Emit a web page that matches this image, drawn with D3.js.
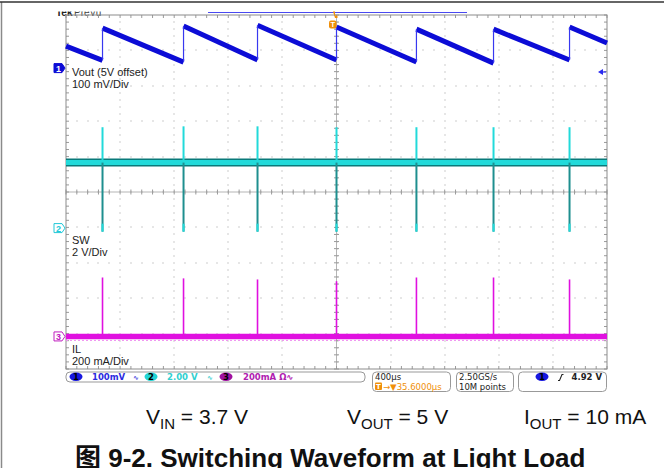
<!DOCTYPE html>
<html><head><meta charset="utf-8">
<script src="https://cdn.jsdelivr.net/npm/d3@7"></script>
<style>html,body{margin:0;padding:0;background:#fff}svg{display:block}</style>
</head><body><svg id="c" width="664" height="468"></svg>
<script>
// ---- data ----
const timeRangeUs = [-2000, 2000];           // 400 µs/div, 10 divisions
const switchTimesUs = [-1730, -1131, -584, 0, 591, 1161, 1723];
const voutBeforeSwitchMv = [22, 17, 23, 23, 17, 14, 23];   // Vout (5 V offset) just before each switching burst
const voutAfterSwitchMv = [113, 119, 121, 116, 110, 110, 116]; // just after
const voutScreenEdgesMv = [62, 71];          // at left / right edge of the screen
const swIdleV = 3.7;
const swSpikeHighV = [5.7, 5.75, 5.75, 5.7, 5.7, 5.7, 5.7];
const swSpikeLowV = [-0.2, -0.2, -0.2, -0.2, -0.2, -0.2, -0.2];
const ilIdleMa = 0;
const ilSpikeMa = [333, 328, 322, 312, 333, 333, 322];
const channelNames = ["Vout (5V offset)", "SW", "IL"];
const channelScales = ["100 mV/Div", "2 V/Div", "200 mA/Div"];
const statusScales = ["100mV", "2.00 V", "200mA \u03A9\u223F"];
const horizontalInfo = ["400\u00B5s", "35.6000\u00B5s"];
const acquisitionInfo = ["2.50GS/s", "10M points"];
const triggerInfo = "4.92 V";
const conditions = [["V", "IN", " = 3.7 V"], ["V", "OUT", " = 5 V"], ["I", "OUT", " = 10 mA"]];
const captionText = "\u56FE 9-2. Switching Waveform at Light Load";

// ---- layout ----
const svg = d3.select("#c");
const L = 66, R = 607, T = 15, B = 369;
const x = d3.scaleLinear().domain(timeRangeUs).range([L, R]);
const yDiv = d3.scaleLinear().domain([-5, 5]).range([B, T]);
const ch1 = v => yDiv(v / 100 + 3.5);
const ch2 = v => yDiv(v / 2 - 1.02);
const ch3 = v => yDiv(v / 200 - 4.08);

const BLUE = "#0c0cd6", CYAN = "#22dada", TEAL = "#0a7a7a", MAG = "#e010e0", GRID = "#9a9a9a", ORANGE = "#f0900a";
const F = "'Liberation Sans', Arial, sans-serif";

// outer frame
svg.append("line").attr("x1", 1.5).attr("x2", 1.5).attr("y1", 2).attr("y2", 468).attr("stroke", "#8a8a8a").attr("stroke-width", 1.5);
svg.append("line").attr("x1", 0).attr("x2", 664).attr("y1", 2).attr("y2", 2).attr("stroke", "#333").attr("stroke-width", 1.5);

// "Tek PreVu" header (clipped at the top like the screenshot)
svg.append("clipPath").attr("id", "hc").append("rect").attr("x", 50).attr("y", 11.5).attr("width", 120).attr("height", 5);
const hg = svg.append("g").attr("clip-path", "url(#hc)");
hg.append("text").attr("x", 56).attr("y", 15.5).attr("font-family", F).attr("font-size", 10).attr("font-weight", "bold").attr("fill", "#222").text("Tek");
hg.append("text").attr("x", 74).attr("y", 15.5).attr("font-family", F).attr("font-size", 10).attr("fill", "#444").text("PreVu");
// record view bar
svg.append("line").attr("x1", 208).attr("x2", 467).attr("y1", 12.5).attr("y2", 12.5).attr("stroke", "#4a4af0").attr("stroke-width", 1);

// graticule
const g = svg.append("g");
const xd = d3.range(0, 11).map(i => L + (R - L) * i / 10);
const yd = d3.range(0, 11).map(i => T + (B - T) * i / 10);
const dots = [];
xd.slice(1, 10).forEach(px => { d3.range(0, 51).forEach(k => { if (k % 5) dots.push([px, T + (B - T) * k / 50]); }); });
yd.slice(1, 10).forEach(py => { d3.range(0, 51).forEach(k => { if (k % 5) dots.push([L + (R - L) * k / 50, py]); }); });
xd.slice(1, 10).forEach(px => yd.slice(1, 10).forEach(py => dots.push([px, py])));
g.selectAll("rect.d").data(dots).join("rect").attr("x", d => Math.round(d[0]) - 0.5).attr("y", d => Math.round(d[1]) - 0.5)
  .attr("width", 1).attr("height", 1).attr("fill", GRID);
// center cross with ticks
const cx = xd[5], cy = yd[5];
g.append("line").attr("x1", L).attr("x2", R).attr("y1", cy).attr("y2", cy).attr("stroke", "#b5b5b5").attr("stroke-width", 1);
g.append("line").attr("x1", cx).attr("x2", cx).attr("y1", T).attr("y2", B).attr("stroke", "#b5b5b5").attr("stroke-width", 1);
d3.range(0, 51).forEach(k => {
  const px = L + (R - L) * k / 50, py = T + (B - T) * k / 50;
  g.append("line").attr("x1", px).attr("x2", px).attr("y1", cy - 2.5).attr("y2", cy + 2.5).attr("stroke", GRID);
  g.append("line").attr("y1", py).attr("y2", py).attr("x1", cx - 2.5).attr("x2", cx + 2.5).attr("stroke", GRID);
  g.append("line").attr("y1", py).attr("y2", py).attr("x1", L).attr("x2", L + 3).attr("stroke", GRID);
  g.append("line").attr("y1", py).attr("y2", py).attr("x1", R - 3).attr("x2", R).attr("stroke", GRID);
  g.append("line").attr("x1", px).attr("x2", px).attr("y1", T).attr("y2", T + 3).attr("stroke", GRID);
  g.append("line").attr("x1", px).attr("x2", px).attr("y1", B - 3).attr("y2", B).attr("stroke", GRID);
});
g.append("rect").attr("x", L).attr("y", T).attr("width", R - L).attr("height", B - T).attr("fill", "none").attr("stroke", "#8c8c8c").attr("stroke-width", 1);

// ---- IL trace ----
const il = svg.append("g");
il.append("line").attr("x1", L).attr("x2", R).attr("y1", ch3(ilIdleMa) + 4).attr("y2", ch3(ilIdleMa) + 4)
  .attr("stroke", "#f090f0").attr("stroke-width", 1).attr("stroke-dasharray", "2,2");
il.append("line").attr("x1", L).attr("x2", R).attr("y1", ch3(ilIdleMa)).attr("y2", ch3(ilIdleMa))
  .attr("stroke", MAG).attr("stroke-width", 5.5);
il.selectAll("line.s").data(switchTimesUs).join("line").attr("class", "s")
  .attr("x1", d => x(d)).attr("x2", d => x(d)).attr("y1", ch3(ilIdleMa)).attr("y2", (d, i) => ch3(ilSpikeMa[i]))
  .attr("stroke", MAG).attr("stroke-width", 1.6);

// ---- SW trace ----
const sw = svg.append("g");
sw.append("line").attr("x1", L).attr("x2", R).attr("y1", ch2(swIdleV)).attr("y2", ch2(swIdleV)).attr("stroke", TEAL).attr("stroke-width", 8);
sw.append("line").attr("x1", L).attr("x2", R).attr("y1", ch2(swIdleV)).attr("y2", ch2(swIdleV)).attr("stroke", CYAN).attr("stroke-width", 5);
sw.selectAll("line.hi").data(switchTimesUs).join("line").attr("class", "hi")
  .attr("x1", d => x(d)).attr("x2", d => x(d)).attr("y1", (d, i) => ch2(swSpikeHighV[i])).attr("y2", ch2(swIdleV))
  .attr("stroke", CYAN).attr("stroke-width", 2);
sw.selectAll("line.lo").data(switchTimesUs).join("line").attr("class", "lo")
  .attr("x1", d => x(d)).attr("x2", d => x(d)).attr("y1", ch2(swIdleV)).attr("y2", (d, i) => ch2(swSpikeLowV[i]))
  .attr("stroke", "#1e8f8f").attr("stroke-width", 2);
sw.selectAll("line.lo2").data(switchTimesUs).join("line").attr("class", "lo2")
  .attr("x1", d => x(d)).attr("x2", d => x(d)).attr("y1", (d, i) => ch2(swSpikeLowV[i]) - 8).attr("y2", (d, i) => ch2(swSpikeLowV[i]))
  .attr("stroke", CYAN).attr("stroke-width", 2);

// ---- Vout trace ----
const vo = svg.append("g");
const ramps = [];
let prevT = timeRangeUs[0], prevV = voutScreenEdgesMv[0];
switchTimesUs.forEach((t, i) => { ramps.push([prevT, prevV, t, voutBeforeSwitchMv[i]]); prevT = t; prevV = voutAfterSwitchMv[i]; });
ramps.push([prevT, prevV, timeRangeUs[1], voutScreenEdgesMv[1]]);
vo.selectAll("line.r").data(ramps).join("line").attr("class", "r")
  .attr("x1", d => x(d[0])).attr("y1", d => ch1(d[1])).attr("x2", d => x(d[2])).attr("y2", d => ch1(d[3]))
  .attr("stroke", BLUE).attr("stroke-width", 5);
vo.selectAll("line.j").data(switchTimesUs).join("line").attr("class", "j")
  .attr("x1", d => x(d)).attr("x2", d => x(d)).attr("y1", (d, i) => ch1(voutBeforeSwitchMv[i])).attr("y2", (d, i) => ch1(voutAfterSwitchMv[i]))
  .attr("stroke", "#3838f0").attr("stroke-width", 1.2);

// ---- channel labels ----
const labY = [[76, 88], [244, 256], [353, 365]];
channelNames.forEach((n, i) => {
  svg.append("text").attr("x", 72).attr("y", labY[i][0]).attr("font-family", F).attr("font-size", 11).attr("fill", "#222").text(n);
  svg.append("text").attr("x", 72).attr("y", labY[i][1]).attr("font-family", F).attr("font-size", 11).attr("fill", "#222").text(channelScales[i]);
});

// ---- channel markers ----
function marker(yc, num, col, filled) {
  const m = svg.append("g");
  m.append("path").attr("d", `M54,${yc - 4.5}H62L65,${yc}L62,${yc + 4.5}H54Z`)
    .attr("fill", filled ? col : "#fff").attr("stroke", col).attr("stroke-width", 1);
  m.append("text").attr("x", 58.5).attr("y", yc + 3.5).attr("text-anchor", "middle").attr("font-family", F)
    .attr("font-size", 9).attr("font-weight", "bold").attr("fill", filled ? "#fff" : col).text(num);
}
marker(ch1(0), "1", BLUE, true);
marker(ch2(0), "2", "#20c8d8", false);
marker(ch3(0), "3", "#c020c0", false);

// trigger level arrow (right) and trigger position markers
svg.append("path").attr("d", `M598,72L603,69V75Z`).attr("fill", "#2a2af0");
svg.append("line").attr("x1", 600).attr("x2", 606).attr("y1", 72).attr("y2", 72).attr("stroke", "#2a2af0").attr("stroke-width", 1.2);
svg.append("path").attr("d", `M${x(0) - 3.5},11.5H${x(0) - 1.5}V15.5H${x(0) + 1}V18H${x(0) - 1.5}Z`).attr("fill", ORANGE);
svg.append("rect").attr("x", x(0) - 7.5).attr("y", 20.5).attr("width", 7.5).attr("height", 8).attr("rx", 2).attr("fill", ORANGE);
svg.append("text").attr("x", x(0) - 3.7).attr("y", 27.3).attr("text-anchor", "middle").attr("font-family", F).attr("font-size", 7.5).attr("font-weight", "bold").attr("fill", "#fff").text("T");

// ---- status bar ----
const sb = svg.append("g").attr("font-family", "'DejaVu Sans', sans-serif").attr("font-size", 8.5).attr("font-weight", "bold");
sb.append("rect").attr("x", 66).attr("y", 372).attr("width", 299).attr("height", 10).attr("rx", 4).attr("fill", "none").attr("stroke", "#999");
sb.append("rect").attr("x", 372.5).attr("y", 372).attr("width", 78).attr("height", 19.5).attr("rx", 4).attr("fill", "none").attr("stroke", "#999");
sb.append("rect").attr("x", 456.5).attr("y", 372).attr("width", 57).attr("height", 19.5).attr("rx", 4).attr("fill", "none").attr("stroke", "#999");
sb.append("rect").attr("x", 518.5).attr("y", 372).attr("width", 88).attr("height", 19.5).attr("rx", 4).attr("fill", "none").attr("stroke", "#999");
function pill(cxp, col, num, txtCol) {
  sb.append("ellipse").attr("cx", cxp).attr("cy", 376.8).attr("rx", 6.5).attr("ry", 4.2).attr("fill", col);
  sb.append("text").attr("x", cxp).attr("y", 380).attr("text-anchor", "middle").attr("fill", txtCol).attr("font-size", 8.5).text(num);
}
pill(76, "#1818e0", "1", "#000");
pill(151, "#22d4d4", "2", "#000");
pill(226, "#a010a0", "3", "#000");
sb.append("text").attr("x", 92).attr("y", 380).attr("fill", "#2a2ae0").text(statusScales[0]);
sb.append("text").attr("x", 133).attr("y", 380).attr("fill", "#4a4ae0").attr("font-size", 7).text("\u223F");
sb.append("text").attr("x", 167).attr("y", 380).attr("fill", "#30d0d0").text(statusScales[1]);
sb.append("text").attr("x", 207).attr("y", 380).attr("fill", "#40d0d0").attr("font-size", 7).text("\u223F");
sb.append("text").attr("x", 243).attr("y", 380).attr("fill", "#b020b0").text(statusScales[2]);
sb.append("text").attr("x", 375).attr("y", 380).attr("fill", "#222").attr("font-weight", "normal").text(horizontalInfo[0]);
sb.append("rect").attr("x", 375).attr("y", 382.5).attr("width", 7).attr("height", 7.5).attr("rx", 1).attr("fill", ORANGE);
sb.append("text").attr("x", 378.5).attr("y", 389).attr("text-anchor", "middle").attr("fill", "#fff").attr("font-size", 7).text("T");
sb.append("text").attr("x", 383).attr("y", 389.5).attr("fill", ORANGE).attr("font-weight", "normal").text("\u2192\u25BC" + horizontalInfo[1]);
sb.append("text").attr("x", 459).attr("y", 380).attr("fill", "#222").attr("font-weight", "normal").text(acquisitionInfo[0]);
sb.append("text").attr("x", 459).attr("y", 389.5).attr("fill", "#222").attr("font-weight", "normal").text(acquisitionInfo[1]);
pill(542, "#1818e0", "1", "#000");
sb.append("path").attr("d", "M558,380.5h1.5l2.5,-6h1.5").attr("fill", "none").attr("stroke", "#222").attr("stroke-width", 1.1);
sb.append("text").attr("x", 602).attr("y", 380).attr("text-anchor", "end").attr("fill", "#222").text(triggerInfo);

// ---- test conditions ----
const condX = [146, 347, 524];
conditions.forEach((c, i) => {
  const t = svg.append("text").attr("x", condX[i]).attr("y", 424).attr("font-family", F).attr("font-size", 21).attr("fill", "#111");
  t.append("tspan").text(c[0]);
  t.append("tspan").attr("font-size", 15).attr("dy", 5).text(c[1]);
  t.append("tspan").attr("dy", -5).text(c[2]);
});
svg.append("text").attr("x", 75).attr("y", 467).attr("font-family", "'Liberation Sans', 'Noto Sans CJK SC', Arial, sans-serif")
  .attr("font-size", 26).attr("font-weight", "bold").attr("fill", "#111").text(captionText);
</script></body></html>
